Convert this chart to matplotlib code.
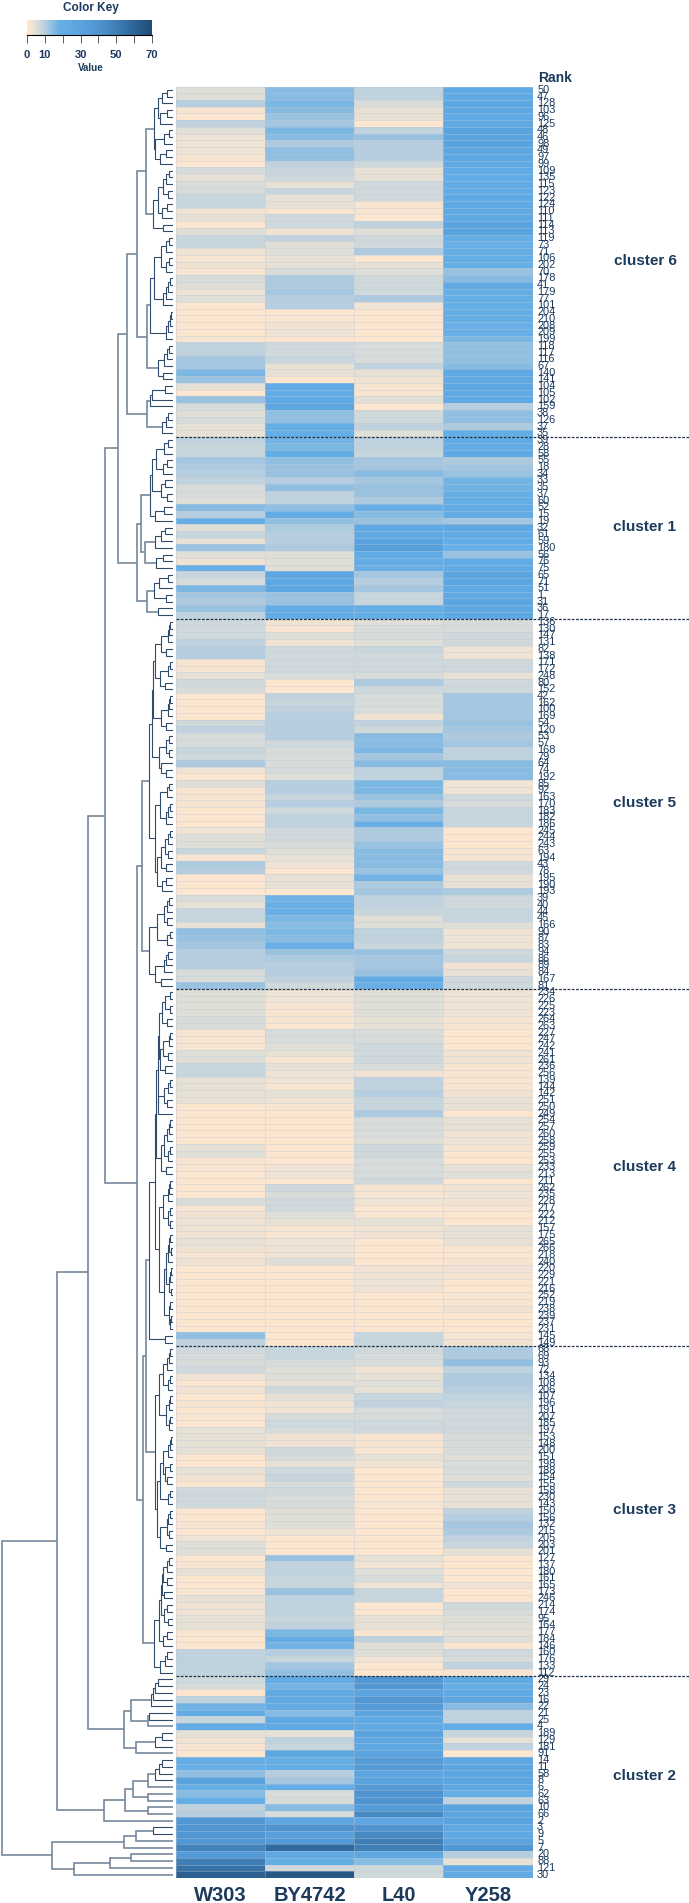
import matplotlib
matplotlib.use("Agg")
import matplotlib.pyplot as plt
import numpy as np
from matplotlib.colors import LinearSegmentedColormap, Normalize
from matplotlib.cm import ScalarMappable
from matplotlib.collections import LineCollection

plt.rcParams['font.family'] = ['Liberation Sans', 'DejaVu Sans']

strains = ["W303", "BY4742", "L40", "Y258"]
cluster_names = ["cluster 6", "cluster 1", "cluster 5", "cluster 4", "cluster 3", "cluster 2"]
cluster_sizes = [52, 27, 55, 53, 49, 30]

w303 = [5,5,10,2,1,9,5,3,3,3,2,1,6,4,6,6,8,8,3,4,1,5,8,8,3,2,
        3,2,6,5,3,5,1,1,1,1,1,2,9,9,12,12,16,13,4,1,13,6,5,6,4,4,
        9,8,8,12,11,10,9,6,6,5,15,10,20,5,8,4,13,5,3,18,8,6,16,12,11,13,9,
        7,7,7,9,10,10,2,2,4,7,6,1,1,1,1,7,9,6,6,8,7,11,3,1,5,2,
        2,2,1,1,1,3,5,5,8,2,11,10,1,1,1,6,4,8,8,4,14,13,12,10,10,10,6,6,13,
        5,5,5,5,6,6,2,2,2,5,5,8,8,4,4,4,4,1,1,1,1,1,1,
        4,5,2,2,1,1,1,1,6,2,3,3,3,3,4,3,2,3,1,1,1,1,1,1,1,1,1,1,14,9,
        7,6,6,7,3,1,3,1,2,1,2,1,4,4,4,4,1,1,4,3,1,7,
        7,7,1,1,2,1,3,5,5,1,2,4,1,1,2,4,3,3,4,4,2,1,1,9,9,9,9,
        7,6,1,9,17,22,8,22,4,3,2,1,20,18,14,30,20,15,20,9,10,38,38,38,38,48,36,50,55,62]
by4742 = [15,15,16,15,13,12,16,15,11,14,14,9,8,7,4,8,4,4,2,7,7,3,9,5,5,4,
          4,6,11,11,12,10,10,1,2,3,3,1,7,7,8,4,4,1,22,22,24,26,14,14,20,20,
          17,16,20,14,13,13,10,14,9,9,14,22,14,11,10,10,11,5,5,5,26,26,26,13,13,22,22,
          3,2,5,3,7,7,7,7,6,1,1,9,8,9,10,10,10,10,7,6,6,6,6,5,10,10,
          8,10,7,9,9,7,7,6,5,4,3,1,4,4,1,17,18,18,16,15,16,15,18,13,11,10,10,9,7,
          3,3,2,2,2,1,6,6,5,4,2,4,3,3,2,4,3,2,1,1,1,1,1,
          1,1,1,3,3,1,7,6,7,7,5,4,2,2,3,3,3,5,1,1,1,1,1,1,1,1,1,1,1,1,
          8,8,6,5,5,4,7,4,3,3,6,7,6,3,3,7,6,4,7,8,6,7,
          6,6,5,5,5,3,1,1,1,13,9,9,8,8,13,9,9,9,8,9,16,22,17,10,8,12,14,
          22,17,24,24,22,15,24,24,4,9,8,26,20,20,10,12,20,6,6,15,6,26,40,32,35,58,24,20,7,65]
l40 = [9,9,6,4,4,1,9,13,10,10,10,7,4,4,7,7,7,2,2,1,9,5,7,7,11,1,
       4,5,7,7,7,11,3,1,1,1,1,1,6,6,6,9,4,3,2,2,5,1,7,7,9,5,
       9,9,8,12,12,15,12,13,13,11,18,15,13,24,24,30,32,22,22,18,12,10,12,8,8,20,20,
       5,6,6,5,8,7,7,7,6,11,7,6,6,6,3,9,7,15,15,16,12,15,9,9,16,16,
       13,11,16,14,18,11,11,13,15,15,15,13,17,11,12,9,9,8,5,5,9,9,8,13,12,12,13,22,18,
       5,5,5,5,4,4,6,6,7,7,7,6,3,9,9,10,8,8,11,6,6,6,5,
       7,7,6,6,6,7,2,2,3,1,2,4,3,3,1,1,1,1,3,3,3,3,1,1,1,1,1,1,8,8,
       7,6,6,3,4,5,4,8,9,6,6,7,7,2,2,2,4,3,1,1,1,1,
       1,2,1,1,1,1,1,1,1,4,3,5,6,3,8,8,1,1,4,4,2,9,5,5,3,1,1,
       38,38,30,38,35,28,24,24,30,26,26,30,35,35,28,30,35,40,40,35,45,26,40,45,50,50,26,15,7,7]
y258 = [24,24,26,26,24,24,30,30,30,26,26,24,22,22,22,22,24,24,24,24,30,30,20,18,20,20,
        20,13,15,24,20,20,20,20,20,18,18,16,14,14,14,15,24,24,26,24,24,10,14,14,11,20,
        22,22,24,11,12,13,17,17,20,20,22,22,12,26,22,22,18,13,22,22,28,28,24,24,28,26,26,
        6,6,7,7,3,3,7,7,4,7,7,12,12,12,12,13,12,11,12,9,9,15,15,15,3,3,
        7,6,8,8,8,1,1,1,2,2,7,7,4,4,11,7,7,8,8,5,3,3,3,7,8,3,4,7,7,
        3,3,3,3,2,2,1,1,1,3,3,2,2,2,2,3,4,4,1,4,4,3,3,
        2,1,1,4,5,1,3,3,3,2,1,1,4,4,4,2,1,2,3,2,1,1,2,2,3,1,1,1,2,3,
        11,11,14,9,11,11,10,9,8,7,7,7,7,6,6,6,5,6,6,5,7,4,
        4,4,9,10,12,11,9,8,4,1,1,1,1,3,1,1,7,6,5,5,4,5,2,7,6,9,2,
        24,20,24,26,15,9,9,20,8,4,9,1,26,28,28,28,26,20,9,30,28,30,24,24,30,38,10,4,22,22]

ranks_c6 = [50,47,128,103,96,125,48,46,98,49,97,99,109,135,115,123,122,124,110,111,114,113,119,73,71,106,
            202,70,178,41,179,77,101,204,210,208,209,199,118,117,116,67,140,141,104,105,102,159,38,126,37,35]
ranks_c1 = [39,28,58,55,18,34,33,35,37,60,52,15,19,32,61,59,180,56,76,75,65,71,51,1,31,36,17]
ranks_c5 = [136,130,147,131,82,138,171,172,248,80,152,42,162,100,169,54,120,53,57,168,79,64,74,192,85,92,
            163,170,183,182,186,245,244,243,63,194,43,78,195,190,193,39,40,44,45,166,90,87,83,94,86,89,84,167,81]
ranks_c4 = [234,226,225,223,264,263,227,247,242,241,261,236,256,139,144,142,251,250,249,254,257,260,258,259,255,253,
            233,213,211,262,235,228,217,222,212,157,175,265,266,218,240,220,229,221,216,252,219,238,239,237,231,145,149]
ranks_c3 = [68,69,93,72,134,108,206,107,196,191,207,185,197,153,148,200,151,198,188,154,155,158,230,143,150,156,132,
            215,205,203,201,127,137,180,161,165,173,246,214,174,95,164,177,184,146,160,176,133,112]
ranks_c2 = [29,24,23,16,22,21,25,4,189,129,181,91,14,11,58,8,6,62,63,10,66,2,3,9,5,7,20,88,121,30]
ranks = ranks_c6 + ranks_c1 + ranks_c5 + ranks_c4 + ranks_c3 + ranks_c2

key_ticks = [0, 10, 20, 30, 40, 50, 60, 70]
key_labels = ["0", "10", "", "30", "", "50", "", "70"]

# Colour key anchors: value, colour
key_values = [0, 1, 3, 5, 7, 9, 12, 15, 18, 30, 40, 50, 60, 70]
key_colors = ["#FEE7CF", "#FDE6CF", "#EFE3D3", "#DEDFD8", "#CFD9DC", "#BFD2DE", "#A3C6E0", "#86BBE2",
              "#66AFE6", "#5AA3DF", "#4F94D0", "#3F7FB6", "#2E6596", "#1E4A75"]

# Dendrogram: nested (merge distance, child, child); 1 is a single row
cluster6_tree = (46,
    (36,
        (27,
            (18.5,
                (15, (11, (6, 1, 1), 1), (13, (6, 1, 1), 1)),
                (18, (9, (4, 1, 1), 1), (13, (7, 1, 1), 1))),
            (20,
                (15, (10, (7, (4, 1, 1), 1), (5, 1, 1)), (11, (6, 1, 1), 1)),
                (10, 1, 1))),
        (26,
            (23,
                (19,
                    (12, (7, (4, 1, 1), 1), (7, (4, 1, 1), 1)),
                    (10, (7, (5, (3, 1, 1), 1), 1), 1)),
                (7, (5, (3, (2, 1, 1), 1), 1), 1)),
            (15, (9, (6, (4, 1, 1), 1), 1), (10, 1, 1)))),
    (26,
        (23, (21, (8, 1, 1), 1), 1),
        (11, (7, (5, 1, 1), 1), 1)))
cluster1_tree = (36,
    (32,
        (23,
            (21,
                (17, (9, (5, 1, 1), 1), (10, (6, 1, 1), 1)),
                (12, (8, 1, 1), (6, 1, 1))),
            (18, (9, 1, 1), 1)),
        (28,
            (18, (12, (8, 1, 1), 1), 1),
            (17, (10, 1, 1), 1))),
    (26,
        (19, (14, (5, 1, 1), 1), (7, 1, 1)),
        (15, 1, 1)))
cluster5_tree = (31,
    (24,
        (21,
            (20,
                (18,
                    (12, (5, (4, (3, 1, 1), 1), 1), (7, 1, 1)),
                    (13, (5, (3, 1, 1), 1), (8, 1, 1))),
                (12, (5, (4, (3, 1, 1), 1), 1), (7, 1, 1))),
            (14, (7, (4, 1, 1), (4, 1, 1)), (12, 1, (7, 1, 1)))),
        (18,
            (13, (6, (4, 1, 1), 1), (7, (5, (3, 1, 1), 1), 1)),
            (16,
                (12, (8, (5, (3, 1, 1), 1), (5, 1, 1)), (7, 1, 1)),
                (11, (7, 1, 1), 1)))),
    (24,
        (16, (9, (6, (4, 1, 1), 1), (6, 1, 1)), (6, (3, 1, 1), 1)),
        (18, (9, (7, (5, 1, 1), 1), 1), (12, 1, 1))))
cluster4_tree = (24,
    (18,
        (17,
            (15,
                (14,
                    (11, (8, (3, 1, 1), (3, 1, 1)), (6, 1, 1)),
                    (13, (10, (4, (3, 1, 1), 1), (5, 1, 1)), (8, 1, 1))),
                (15, (9, (5, (3, 1, 1), 1), (6, 1, 1)), 1)),
            (12,
                (9, (6, (4, (3, 1, 1), 1), 1), (5, (3, 1, 1), 1)),
                (7, 1, 1))),
        (14,
            (10, (5, (4, (3, 1, 1), 1), 1), (5, (3, 1, 1), (3, 1, 1))),
            (9,
                (7, (5, (4, (3, 1, 1), (2, 1, 1)), 1), (4, (3, (2, 1, 1), 1), (2, 1, 1))),
                (4, (3, 1, 1), (3, (2, 1, 1), 1))))),
    (8, 1, 1))
cluster3_upper_tree = (18,
    (14,
        (10, (6, (4, (3, 1, 1), 1), 1), (5, (3, 1, 1), 1)),
        (7, (4, (3, 1, 1), 1), (4, (3, 1, 1), 1))),
    (16,
        (13,
            (10, (5, (3, (2, 1, 1), 1), 1), (8, (3, 1, 1), (6, 1, 1))),
            (5, (3, 1, 1), 1)),
        (13, (6, (5, (3, 1, 1), 1), (4, 1, 1)), (7, 1, 1))))
cluster3_lower_tree = (19,
    (14,
        (12,
            (11, (10, (6, (4, 1, 1), 1), (6, 1, 1)), (9, 1, 1)),
            (9, (6, 1, 1), (5, 1, 1))),
        (10, (6, 1, 1), 1)),
    (13, (8, (6, 1, 1), 1), 1))
cluster2a_tree = (49,
    (42,
        (22, (20, (18, (15, 1, 1), 1), 1), 1),
        (25, (24, 1, 1), 1)),
    (37, (18, (11, 1, 1), 1), 1))
cluster2b_tree = (69,
    (48,
        (40, (25, (18, (14, (11, 1, 1), 1), 1), 1), (25, 1, 1)),
        (25, 1, 1)),
    1)
cluster2c_tree = (121,
    (49, (37, (20, 1, 1), 1), 1),
    (99, (63, (42, 1, 1), 1), 1))
full_tree = (170.7,
    (116,
        (85,
            (68,
                (55, cluster6_tree, cluster1_tree),
                (36, cluster5_tree,
                    (30, (27, cluster4_tree, cluster3_upper_tree), cluster3_lower_tree))),
            cluster2a_tree),
        cluster2b_tree),
    cluster2c_tree)

NAVY = "#1B3A5C"
W, H = 689, 1903

def axes_px(fig, x0, y0, x1, y1):
    return fig.add_axes([x0 / W, 1 - y1 / H, (x1 - x0) / W, (y1 - y0) / H])

fig = plt.figure(figsize=(W / 100, H / 100), dpi=100, facecolor="white")
n_rows = len(ranks)
heat = np.array([w303, by4742, l40, y258], dtype=float).T
assert heat.shape == (266, 4), heat.shape
cmap = LinearSegmentedColormap.from_list(
    "key", [(v / 70, c) for v, c in zip(key_values, key_colors)], N=512)
norm = Normalize(0, 70)

ax = axes_px(fig, 176, 86.5, 532.6, 1878)
ax.pcolormesh(np.arange(5), np.arange(n_rows + 1), heat, cmap=cmap, norm=norm,
              edgecolors=(0.74, 0.79, 0.84, 0.38), linewidth=0.6)
ax.set_xlim(0, 4)
ax.set_ylim(n_rows, 0)
ax.axis("off")

col_w = (532.6 - 176) / 4
for i, r in enumerate(ranks):
    ax.text(4 + 4.5 / col_w, i + 0.5, str(r), fontsize=7.9, color=NAVY, ha="left",
            va="center", clip_on=False)
ax.text(4 + 5.5 / col_w, -1.3, "Rank", fontsize=10, fontweight="bold", color=NAVY,
        ha="left", va="center", clip_on=False)
for i, s in enumerate(strains):
    ax.text(i + 0.5, n_rows + 2.6, s, fontsize=14.5, fontweight="bold", color=NAVY,
            ha="center", va="center", clip_on=False)

edges = np.cumsum(cluster_sizes)
starts = np.concatenate([[0], edges[:-1]])
x_right = 4 + (W - 532.6) / col_w
for e in edges[:-1]:
    ax.plot([0, x_right], [e, e], color="#22344A", lw=0.9, ls=(0, (2.2, 1.2)), clip_on=False, zorder=5)
for name, s, e in zip(cluster_names, starts, edges):
    ax.text(4 + (645 - 532.6) / col_w, (s + e) / 2 - 0.1, name, fontsize=11, fontweight="bold",
            color=NAVY, ha="center", va="center", clip_on=False)

# Dendrogram
dax = axes_px(fig, 0, 86.5, 173, 1878)
dax.set_xlim(173, 0)
dax.set_ylim(n_rows, 0)
dax.axis("off")
segments, colors, widths = [], [], []
counter = [0]

def walk(node):
    if node == 1:
        y = counter[0] + 0.5
        counter[0] += 1
        return 0.0, y
    d, a, b = node
    da, ya = walk(a)
    db, yb = walk(b)
    seg = [[(da, ya), (d, ya), (d, yb), (db, yb)]]
    segments.extend(seg)
    big = d > 24
    colors.append("#6F8499" if big else "#2F4C6C")
    widths.append(1.15 if big else 0.8)
    return d, (ya + yb) / 2

walk(full_tree)
assert counter[0] == n_rows, counter
dax.add_collection(LineCollection(segments, colors=colors, linewidths=widths, capstyle="butt", joinstyle="miter"))

# Colour key
kax = axes_px(fig, 27, 20, 152, 35)
cb = fig.colorbar(ScalarMappable(norm=norm, cmap=cmap), cax=kax, orientation="horizontal")
cb.outline.set_visible(False)
cb.set_ticks(key_ticks)
cb.set_ticklabels(key_labels)
kax.tick_params(axis="x", length=5.5, width=0.6, color="#444444", pad=5, labelsize=8, labelcolor=NAVY)
for t in kax.get_xticklabels():
    t.set_fontweight("bold")
kax.spines["bottom"].set_visible(True)
fig.text(91 / W, 1 - 8 / H, "Color Key", fontsize=8.5, fontweight="bold", color=NAVY, ha="center", va="center")
fig.text(91 / W, 1 - 68 / H, "Value", fontsize=7, fontweight="bold", color=NAVY, ha="center", va="center")

fig.savefig("out.png", dpi=100, facecolor="white")
